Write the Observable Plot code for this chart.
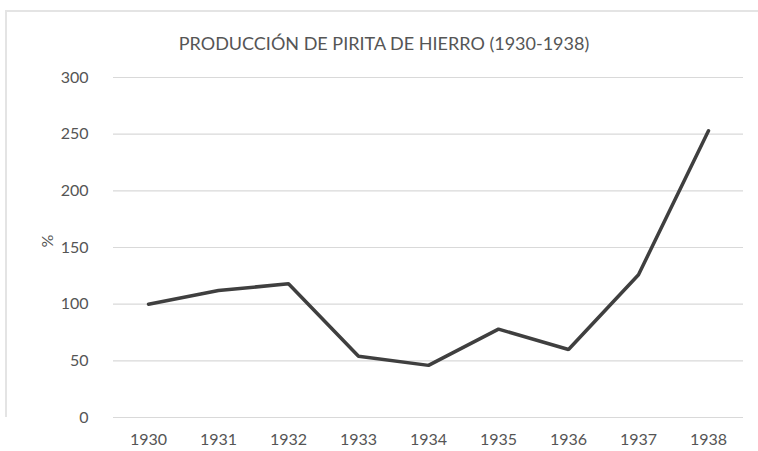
<!DOCTYPE html>
<html>
<head>
<meta charset="utf-8">
<script src="https://cdn.jsdelivr.net/npm/d3@7"></script>
<script src="https://cdn.jsdelivr.net/npm/@observablehq/plot@0.6"></script>
<style>
  html, body { margin: 0; padding: 0; background: #fff; }
  #wrap { position: relative; width: 758px; height: 451px; overflow: hidden; font-family: Lato, "Open Sans", sans-serif; }
  #frame { position: absolute; left: 5px; top: 10px; width: 760px; height: 405px; border-left: 2px solid #e4e4e4; border-top: 2px solid #e4e4e4; }
  #title { position: absolute; left: 0; width: 768px; top: 32px; text-align: center; font-size: 18px; color: #555; }
  #chart { position: absolute; left: 0; top: 0; }
</style>
</head>
<body>
<div id="wrap">
  <div id="frame"></div>
  <div id="chart"></div>
  <div id="title">PRODUCCIÓN DE PIRITA DE HIERRO (1930-1938)</div>
</div>
<script>
const years = ["1930", "1931", "1932", "1933", "1934", "1935", "1936", "1937", "1938"];
const values = [100, 112, 118, 54, 46, 78, 60, 126, 253];
const yTicks = [0, 50, 100, 150, 200, 250, 300];

const data = years.map((y, i) => ({year: y, value: values[i]}));

const chart = Plot.plot({
  width: 758,
  height: 451,
  marginTop: 77,
  marginBottom: 34,
  marginLeft: 113,
  marginRight: 15,
  style: {fontFamily: "Lato, 'Open Sans', sans-serif", fontSize: "16px", color: "#555", background: "transparent"},
  x: {type: "point", domain: years, padding: 0.5, label: null},
  y: {domain: [0, 300], ticks: yTicks, label: null},
  marks: [
    Plot.ruleY(yTicks, {stroke: "#d9d9d9", strokeWidth: 1.2}),
    Plot.axisX({tickSize: 0, tickPadding: 16, fontSize: 16}),
    Plot.axisY(yTicks, {tickSize: 0, tickPadding: 25, fontSize: 16}),
    Plot.text(["%"], {frameAnchor: "left", dx: -66, rotate: -90, fontSize: 16}),
    Plot.line(data, {x: "year", y: "value", stroke: "#3f3f3f", strokeWidth: 3.5, strokeLinejoin: "miter"})
  ]
});
document.getElementById("chart").appendChild(chart);
</script>
</body>
</html>
